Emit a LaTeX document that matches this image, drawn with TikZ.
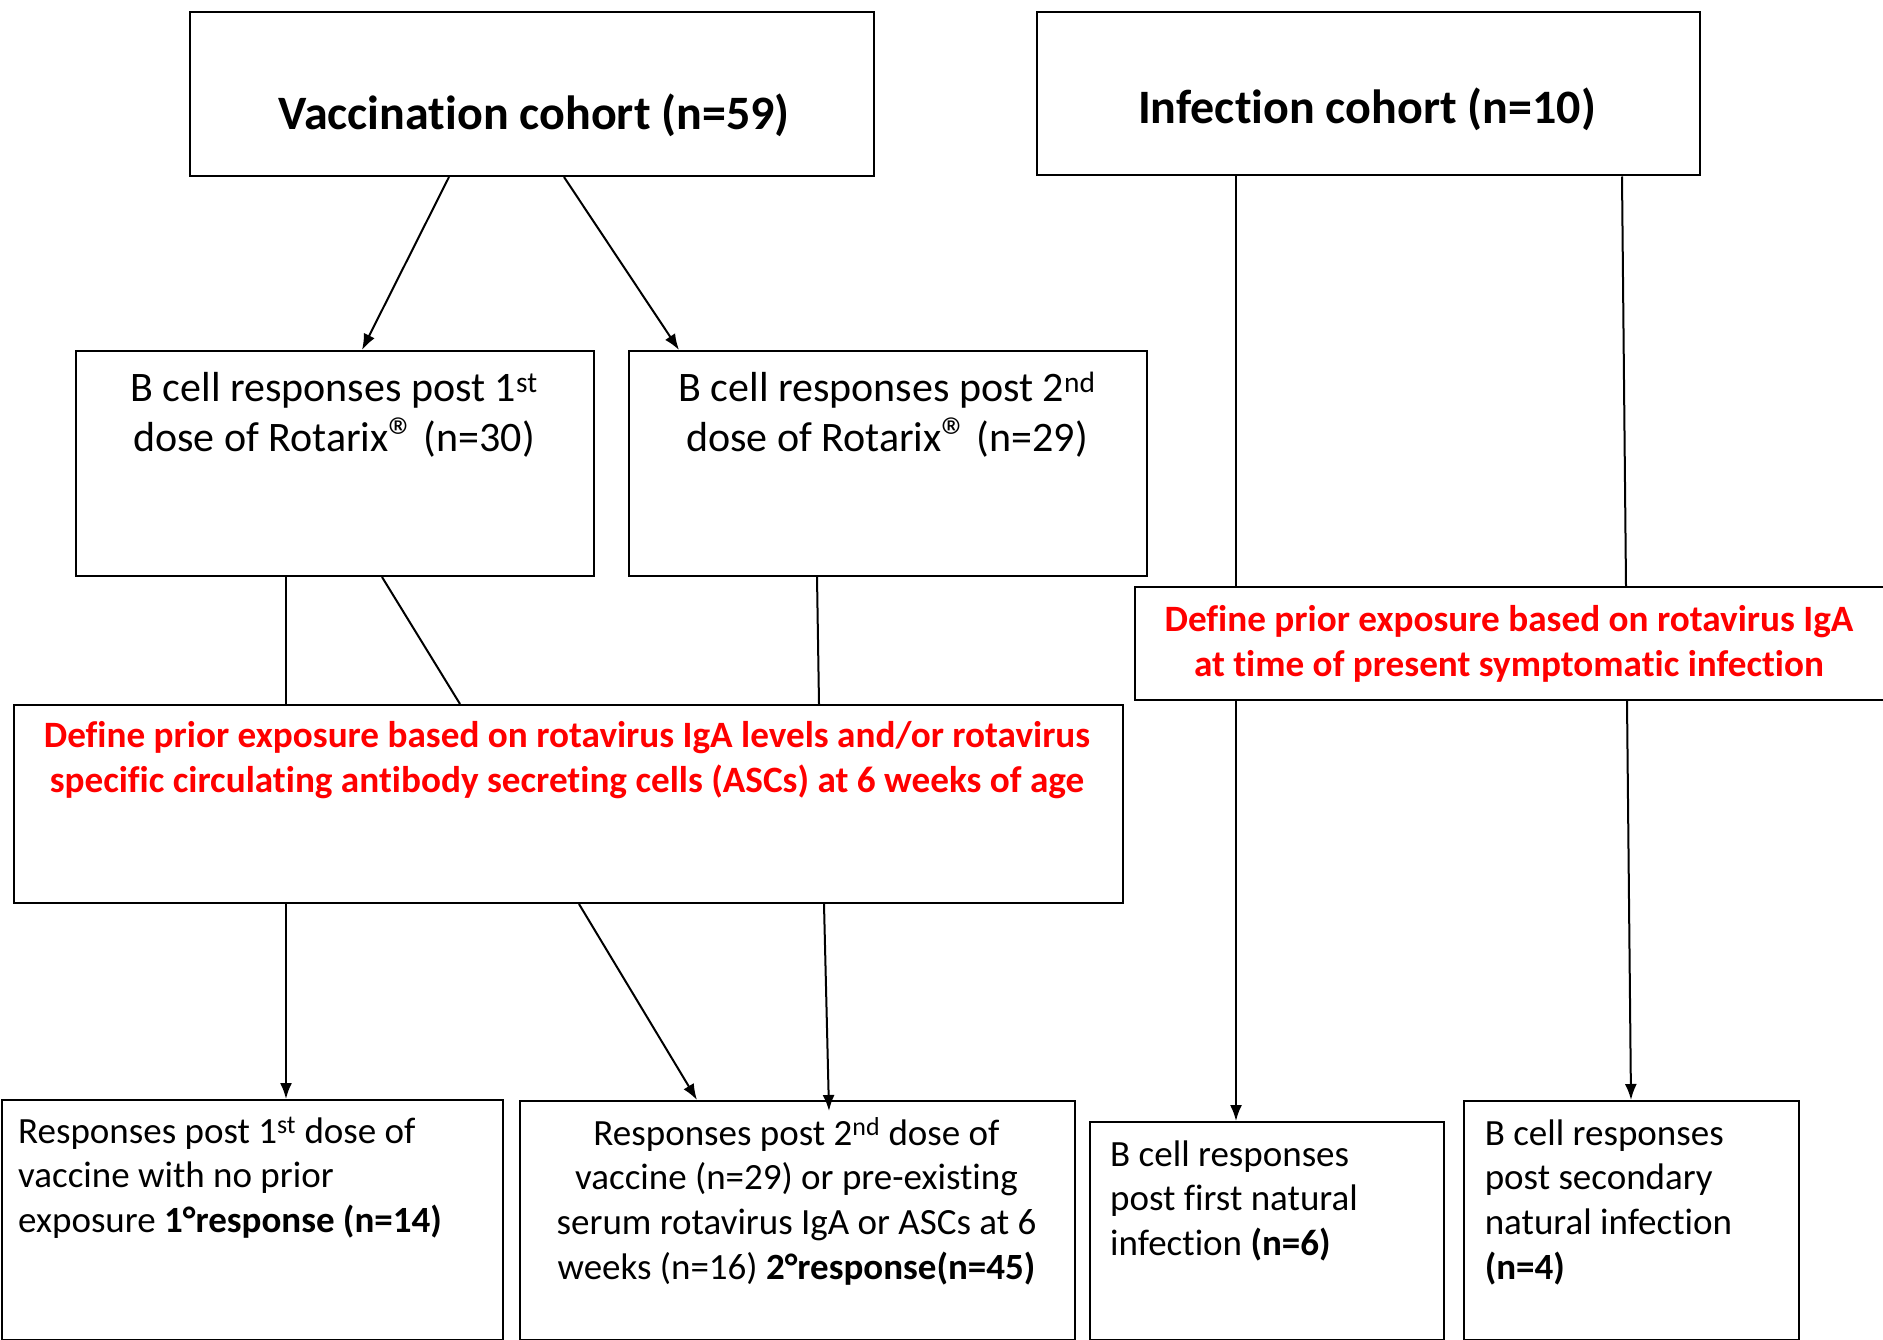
\documentclass[tikz,border=0pt]{standalone}
\usepackage{fontspec}
\usepackage{graphicx}
\setmainfont{Carlito}[Ligatures=NoCommon]
\usetikzlibrary{calc,arrows.meta}
\definecolor{redtxt}{RGB}{255,0,0}
\newcommand\ftitle{\fontsize{48}{58}\selectfont\bfseries}
\newcommand\fbcell{\fontsize{42}{50}\selectfont}
\newcommand\fredtxt{\fontsize{37.2}{45.5}\selectfont\bfseries\color{redtxt}}
\newcommand\fbottom{\fontsize{37}{44.7}\selectfont}
\newcommand\regmark{\raisebox{-0.08em}{\scalebox{1.3}{®}}\kern-2pt}
\tikzset{
  box/.style={draw, line width=2pt, inner sep=0pt, anchor=north west},
  conn/.style={line width=2pt},
  arr/.style={conn, -{Latex[length=16pt,width=12pt]}},
  txt/.style={inner sep=0pt, anchor=base},
}
\begin{document}
\begin{tikzpicture}[x=1pt,y=-1pt]
\useasboundingbox (0,0) rectangle (1883,1340);
\clip (0,0) rectangle (1883,1340);
% boxes
\node[box, minimum width=684pt, minimum height=164pt] (vacc) at (188.5,11) {};
\node[box, minimum width=662.5pt, minimum height=163.5pt] (infc) at (1036,11) {};
\node[box, minimum width=518.5pt, minimum height=225pt] (b1) at (74.5,350) {};
\node[box, minimum width=518pt, minimum height=224.5pt] (b2) at (628,350) {};
\node[box, minimum width=1108.5pt, minimum height=198pt] (def1) at (13,704) {};
\node[box, minimum width=760pt, minimum height=112.5pt] (def2) at (1134,586) {};
\node[box, minimum width=501pt, minimum height=239.5pt] (r1) at (1,1099) {};
\node[box, minimum width=555.5pt, minimum height=238.5pt] (r2) at (518.5,1100) {};
\node[box, minimum width=354pt, minimum height=217.5pt] (n1) at (1089,1121) {};
\node[box, minimum width=335pt, minimum height=238.5pt] (n2) at (1463,1100) {};
% texts
\node[txt, font=\ftitle] (vacct) at (534,130) {Vaccination cohort (n=59)};
\node[txt, font=\ftitle] (infct) at (1367,124) {Infection cohort (n=10)};
\node[txt, font=\fbcell, text width=510pt, align=flush center] (b1t) at (334,402)
  {B cell responses post 1\textsuperscript{st}\\dose of Rotarix\regmark{} (n=30)};
\node[txt, font=\fbcell, text width=510pt, align=flush center] (b2t) at (887,402)
  {B cell responses post 2\textsuperscript{nd}\\dose of Rotarix\regmark{} (n=29)};
\node[txt, font=\fredtxt, text width=1100pt, align=flush center] (def1t) at (567,747)
  {Define prior exposure based on rotavirus IgA levels and/or rotavirus\\specific circulating antibody secreting cells (ASCs) at 6 weeks of age};
\node[txt, font=\fredtxt, text width=740pt, align=flush center] (def2t) at (1509,631)
  {Define prior exposure based on rotavirus IgA\\at time of present symptomatic infection};
\node[txt, font=\fbottom, text width=480pt, align=flush left, anchor=base west] (r1t) at (18,1143)
  {Responses post 1\textsuperscript{st} dose of\\vaccine with no prior\\exposure \textbf{1°response (n=14)}};
\node[txt, font=\fbottom, text width=550pt, align=flush center] (r2t) at (796.5,1145)
  {Responses post 2\textsuperscript{nd} dose of\\vaccine (n=29) or pre-existing\\serum rotavirus IgA or ASCs at 6\\weeks (n=16) \textbf{2°response(n=45)}};
\node[txt, font=\fbottom, text width=330pt, align=flush left, anchor=base west] (n1t) at (1110,1166)
  {B cell responses\\post first natural\\infection \textbf{(n=6)}};
\node[txt, font=\fbottom, text width=310pt, align=flush left, anchor=base west] (n2t) at (1484.6,1145)
  {B cell responses\\post secondary\\natural infection\\\textbf{(n=4)}};
% connectors
\draw[arr] ($(vacc.south west)+(260.5,0)$) -- ($(b1.north west)+(287.5,0)$);
\draw[arr] ($(vacc.south west)+(375.5,0)$) -- ($(b2.north west)+(51,0)$);
\draw[conn] ($(b1.south west)+(211.5,0)$) -- ($(def1.north west)+(273,0)$);
\draw[conn] ($(b1.south west)+(307.5,0)$) -- ($(def1.north west)+(447,0)$);
\draw[conn] ($(b2.south west)+(189,0)$) -- ($(def1.north west)+(806,0)$);
\draw[arr] ($(def1.south west)+(273,0)$) -- ($(r1.north west)+(285,0)$);
\draw[arr] ($(def1.south west)+(566,0)$) -- ($(r2.north west)+(178.5,0)$);
\draw[arr] ($(def1.south west)+(811,0)$) -- ($(r2.north west)+(310.5,11)$);
\draw[conn] ($(infc.south west)+(200,0)$) -- ($(def2.north west)+(102,0)$);
\draw[conn] ($(infc.south west)+(586,0)$) -- ($(def2.north west)+(492,0)$);
\draw[arr] ($(def2.south west)+(102,0)$) -- ($(n1.north west)+(147,0)$);
\draw[arr] ($(def2.south west)+(493,0)$) -- ($(n2.north west)+(168,0)$);
\end{tikzpicture}
\end{document}
